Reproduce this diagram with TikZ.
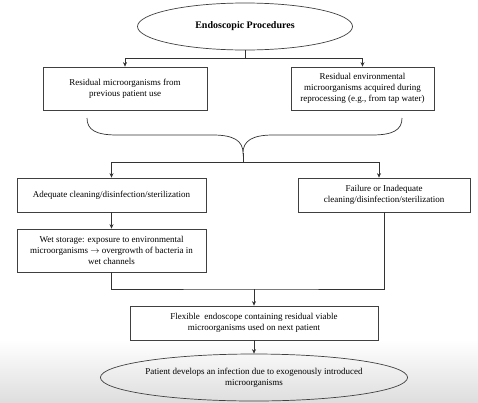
\documentclass[tikz,border=0pt]{standalone}
\usepackage{fontspec}
\setmainfont{Liberation Serif}
\usetikzlibrary{arrows.meta,positioning,shapes.geometric}

\begin{document}
\begin{tikzpicture}[x=1pt, y=-1pt,
    font=\fontsize{9}{11}\selectfont,
    box/.style={draw=black!75, line width=0.7pt, align=center, inner sep=2pt},
    oval/.style={ellipse, draw=black!75, line width=0.7pt, align=center, inner sep=0pt},
    link/.style={draw=black!80, line width=0.7pt},
    >={Stealth[length=4.5pt,width=4pt]},
    ]
% page and bottom shading
\fill[white] (0,0) rectangle (478,402);
\fill[top color=white, bottom color=black!13] (0,340) rectangle (478,402);
\useasboundingbox (0,0) rectangle (478,402);

\node[oval, minimum width=215pt, minimum height=47pt, font=\fontsize{10}{12}\selectfont\bfseries] (top) at (245,26.5)
  {Endoscopic Procedures};

\node[box, minimum width=164pt, minimum height=43pt] (r1) at (125,88.5)
  {Residual microorganisms from\\previous patient use};
\node[box, minimum width=143pt, minimum height=43pt] (r2) at (362.5,88.5)
  {Residual environmental\\microorganisms acquired during\\reprocessing (e.g., from tap water)};

\node[box, minimum width=189pt, minimum height=34pt] (a1) at (111.5,195)
  {Adequate cleaning/disinfection/sterilization};
\node[box, minimum width=172pt, minimum height=34pt] (f1) at (384,195)
  {Failure or Inadequate\\cleaning/disinfection/sterilization};

\node[box, minimum width=189pt, minimum height=43pt] (w1) at (111.5,250.5)
  {Wet storage: exposure to environmental\\microorganisms $\rightarrow$ overgrowth of bacteria in\\wet channels};

\node[box, minimum width=248pt, minimum height=34pt] (fx) at (254,323)
  {Flexible\ \ endoscope containing residual viable\\microorganisms used on next patient};

\node[oval, minimum width=292pt, minimum height=47pt] (bot) at (254,377.5)
  {Patient develops an infection due to exogenously introduced\\microorganisms};

% junctions
\coordinate (j1) at (top.south |- 0,58);
\coordinate (brc) at (243,153);
\coordinate (j2) at (243,162);
\coordinate (j3) at (254,289);

\draw[link] (top.south) -- (j1);
\draw[link,->] (j1) -| (r1.north);
\draw[link,->] (j1) -| (r2.north);

% brace
\draw[link] (87,118) .. controls (87,130) and (96,135) .. (117,135) -- (213,135)
  .. controls (234,135) and (243,141) .. (brc)
  .. controls (243,141) and (252,135) .. (273,135) -- (372,135)
  .. controls (393,135) and (402,130) .. (402,118);
\draw[link] (brc) -- (j2);
\draw[link,->] (j2) -| (a1.north);
\draw[link,->] (j2) -| ([xshift=-5pt]f1.north);

\draw[link,->] (a1) -- (w1);
\draw[link] (w1.south) |- (j3) -| (f1.south);
\draw[link,->] (j3) -- (fx.north);
\draw[link,->] (fx) -- (bot);
\end{tikzpicture}
\end{document}
